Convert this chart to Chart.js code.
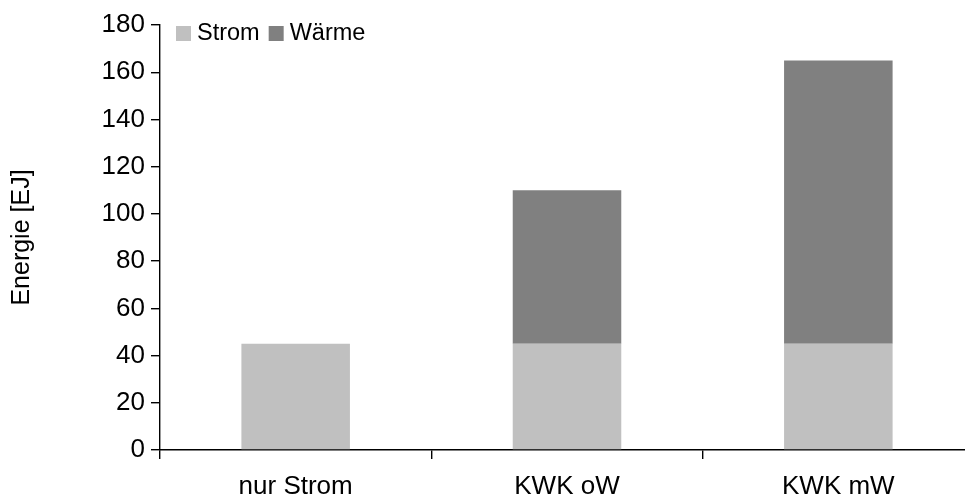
<!DOCTYPE html>
<html>
<head>
<meta charset="utf-8">
<script src="https://cdn.jsdelivr.net/npm/chart.js@4"></script>
<style>
  body { margin: 0; background: #fff; overflow: hidden; }
  #wrap { width: 965px; height: 500px; overflow: hidden; }
</style>
</head>
<body>
<div id="wrap"><canvas id="chart" width="974" height="500"></canvas></div>
<script>
const categories = ["nur Strom", "KWK oW", "KWK mW"];
const strom = [45, 45, 45];
const waerme = [null, 65, 120];
const yTicks = [0, 20, 40, 60, 80, 100, 120, 140, 160, 180];

const fontFamily = "'Liberation Sans', Arial, sans-serif";
const font = { family: fontFamily, size: 26 };

// legend drawn in one row inside the plot, top-left
const innerLegend = {
  id: "innerLegend",
  afterDraw(chart) {
    const c = chart.ctx;
    let x = chart.chartArea.left + 16;
    const y = chart.chartArea.top + 8;
    c.save();
    c.font = "23.5px " + fontFamily;
    c.textBaseline = "middle";
    chart.data.datasets.forEach(ds => {
      c.fillStyle = ds.backgroundColor;
      c.fillRect(x, y - 7, 15, 15);
      x += 21;
      c.fillStyle = "#000";
      c.fillText(ds.label, x, y + 1);
      x += c.measureText(ds.label).width + 9;
    });
    c.restore();
  }
};

const ctx = document.getElementById("chart").getContext("2d");
new Chart(ctx, {
  type: "bar",
  data: {
    labels: categories,
    datasets: [
      { label: "Strom", data: strom, backgroundColor: "#c0c0c0", barPercentage: 0.4, categoryPercentage: 1 },
      { label: "Wärme", data: waerme, backgroundColor: "#808080", barPercentage: 0.4, categoryPercentage: 1 }
    ]
  },
  options: {
    responsive: false,
    animation: false,
    layout: { padding: { top: 25, right: 0, left: 0, bottom: 0 } },
    plugins: {
      legend: { display: false },
      tooltip: { enabled: false }
    },
    scales: {
      x: {
        stacked: true,
        border: { color: "#000", width: 1.4 },
        grid: { display: true, drawOnChartArea: false, tickLength: 9, color: "#000", lineWidth: 1.4, offset: true },
        ticks: { color: "#000", font: font, padding: 12 },
        afterFit: s => { s.height = 50; }
      },
      y: {
        stacked: true,
        min: 0,
        max: 180,
        afterBuildTicks: s => { s.ticks = yTicks.map(v => ({ value: v })); },
        border: { color: "#000", width: 1.4 },
        grid: { display: true, drawOnChartArea: false, tickLength: 9, color: "#000", lineWidth: 1.4 },
        ticks: { color: "#000", font: font, padding: 6 },
        title: { display: true, text: "Energie [EJ]", color: "#000", font: { family: fontFamily, size: 25 }, padding: { top: 7, bottom: 0 } },
        afterFit: s => { s.width = 160; }
      }
    }
  },
  plugins: [innerLegend]
});
</script>
</body>
</html>
